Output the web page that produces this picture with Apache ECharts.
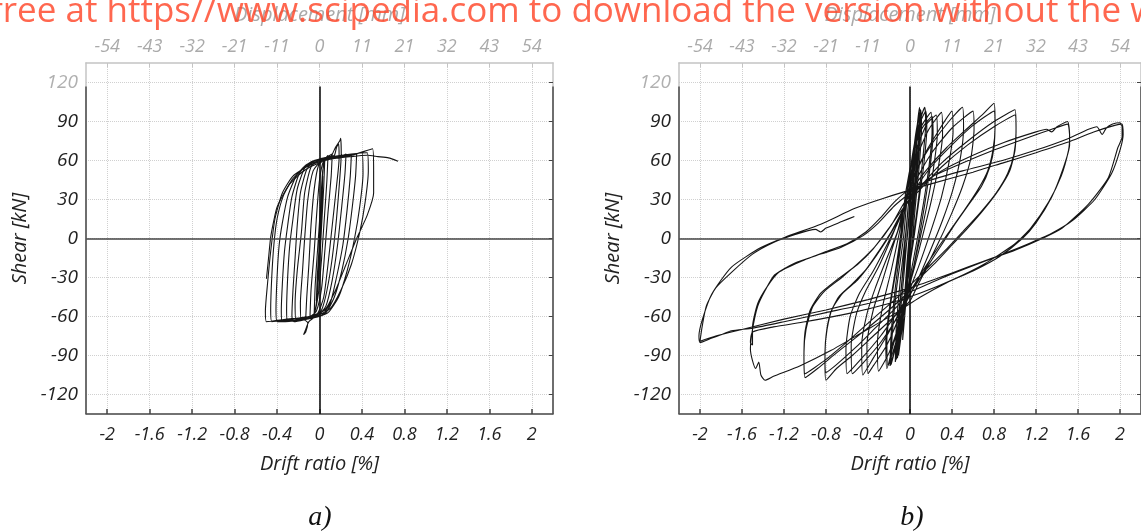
<!DOCTYPE html>
<html><head><meta charset="utf-8">
<script src="https://cdn.jsdelivr.net/npm/echarts@6/dist/echarts.min.js"></script>
<style>html,body{margin:0;padding:0;background:#fff}#c{width:1141px;height:531px}</style>
</head><body><div id="c"></div>
<script>
// ---- tick labels ----
const driftTicks = [-2, -1.6, -1.2, -0.8, -0.4, 0, 0.4, 0.8, 1.2, 1.6, 2];
const dispLabels = ['-54', '-43', '-32', '-21', '-11', '0', '11', '21', '32', '43', '54'];
const shearTicks = [-120, -90, -60, -30, 0, 30, 60, 90, 120];

// ---- specimen a) : [drift %, shear kN] ----
const a1 = [[0,0],[0.01,20],[0.02,38],[0.015,25],[0,2],[-0.01,-18],[-0.02,-36],[-0.012,-20],[0,0]];
const a2 = [[0.01,22],[0.03,48],[0.025,30],[0.005,0],[-0.015,-28],[-0.03,-48],[-0.02,-28],[0,-2]];
const a3 = [[0.015,30],[0.035,55],[0.05,62],[0.04,40],[0.02,10],[0,-20],[-0.03,-50],[-0.05,-58],[-0.04,-35],[-0.015,-5]];
const a4 = [[0.01,25],[0.03,52],[0.06,62],[0.08,64],[0.07,45],[0.045,15],[0.02,-15],[-0.01,-42],[-0.05,-58],[-0.09,-61],[-0.08,-40],[-0.05,-10]];
const a5 = [[-0.03,15],[0,45],[0.04,60],[0.1,64],[0.12,65],[0.11,48],[0.08,20],[0.05,-10],[0.02,-38],[-0.03,-56],[-0.1,-61],[-0.13,-62],[-0.12,-45],[-0.1,-20]];
const a6 = [[-0.08,10],[-0.05,38],[-0.01,56],[0.06,62],[0.14,64],[0.16,70],[0.18,73],[0.185,62],[0.16,40],[0.12,10],[0.08,-20],[0.04,-45],[-0.02,-58],[-0.1,-61],[-0.17,-63],[-0.18,-50],[-0.16,-25]];
const a7 = [[-0.14,0],[-0.11,30],[-0.06,52],[0.02,60],[0.1,62],[0.15,70],[0.19,75],[0.2,77],[0.205,65],[0.19,45],[0.16,15],[0.12,-15],[0.07,-40],[0.02,-55],[-0.04,-60],[-0.1,-64],[-0.13,-70],[-0.15,-74],[-0.13,-72],[-0.11,-65],[-0.16,-62],[-0.22,-63],[-0.23,-50],[-0.21,-25]];
const a8 = [[-0.17,5],[-0.14,35],[-0.08,55],[0,61],[0.1,63],[0.22,64],[0.25,65],[0.24,50],[0.21,25],[0.17,-5],[0.12,-32],[0.06,-52],[-0.02,-60],[-0.12,-62],[-0.24,-64],[-0.26,-60],[-0.25,-40],[-0.23,-15]];
const a9 = [[-0.21,10],[-0.18,35],[-0.12,53],[-0.04,60],[0.1,62],[0.25,63],[0.3,64],[0.29,48],[0.26,22],[0.22,-5],[0.16,-30],[0.1,-50],[0.02,-59],[-0.1,-61],[-0.25,-63],[-0.3,-64],[-0.31,-55],[-0.3,-30],[-0.28,-5]];
const a10 = [[-0.25,15],[-0.21,38],[-0.14,54],[-0.05,60],[0.1,62],[0.3,64],[0.35,65],[0.34,48],[0.31,25],[0.27,0],[0.21,-25],[0.14,-45],[0.06,-57],[-0.05,-61],[-0.2,-63],[-0.35,-64],[-0.36,-56],[-0.35,-35],[-0.33,-10]];
const a11 = [[-0.3,10],[-0.26,32],[-0.19,50],[-0.1,58],[0.05,62],[0.25,64],[0.4,66],[0.41,50],[0.38,25],[0.33,0],[0.26,-25],[0.18,-45],[0.08,-57],[-0.05,-61],[-0.25,-63],[-0.4,-64],[-0.41,-55],[-0.4,-30],[-0.38,-5]];
const a12 = [[-0.35,12],[-0.3,32],[-0.22,48],[-0.12,57],[0.05,62],[0.3,65],[0.45,66],[0.46,52],[0.43,28],[0.38,5],[0.3,-20],[0.2,-40],[0.1,-54],[-0.05,-60],[-0.25,-62],[-0.45,-64],[-0.46,-55],[-0.45,-30],[-0.43,-5]];
const a13 = [[-0.4,15],[-0.34,33],[-0.25,46],[-0.12,56],[0.05,61],[0.3,64],[0.5,69],[0.51,52],[0.51,35],[0.45,18],[0.35,0],[0.25,-20],[0.15,-40],[0.05,-55],[-0.1,-60],[-0.3,-62],[-0.5,-64],[-0.51,-56],[-0.49,-35],[-0.46,-10]];
const a14 = [[-0.42,15],[-0.35,35],[-0.25,48],[-0.1,56],[0.1,61],[0.3,63],[0.45,64],[0.55,63],[0.65,62],[0.74,59.5]];
const aStroke = [[-0.5,-31],[-0.48,-15],[-0.46,1],[-0.43,14],[-0.4,24],[-0.34,34],[-0.28,42],[-0.18,50],[-0.09,55],[0,58]];

// ---- specimen b) : [drift %, shear kN] ----
const b1 = [[0,0],[0.02,30],[0.04,55],[0.03,35],[0.01,10],[-0.02,-25],[-0.04,-50],[-0.03,-30],[-0.01,-5]];
const b2 = [[0.01,15],[0.04,50],[0.07,80],[0.06,60],[0.03,25],[0,-10],[-0.04,-50],[-0.07,-78],[-0.06,-55],[-0.03,-20]];
const b3 = [[0,10],[0.03,45],[0.07,78],[0.1,95],[0.09,75],[0.05,40],[0.01,0],[-0.04,-40],[-0.08,-72],[-0.11,-90],[-0.1,-65],[-0.06,-30]];
const b3r = [[-0.02,8],[0.02,48],[0.06,80],[0.09,96],[0.08,72],[0.04,36],[0,-4],[-0.05,-44],[-0.09,-75],[-0.12,-92],[-0.11,-66],[-0.07,-28]];
const b4 = [[-0.02,5],[0.02,45],[0.06,80],[0.09,101],[0.1,90],[0.08,60],[0.04,25],[0,-10],[-0.05,-45],[-0.1,-75],[-0.13,-93],[-0.12,-70],[-0.08,-35]];
const b4r = [[-0.04,2],[0,40],[0.05,78],[0.1,99],[0.11,86],[0.09,58],[0.05,24],[0.01,-12],[-0.04,-46],[-0.1,-78],[-0.14,-95],[-0.13,-68],[-0.09,-30]];
const b5 = [[-0.04,5],[0,40],[0.05,75],[0.1,92],[0.14,101],[0.15,88],[0.12,60],[0.08,30],[0.03,0],[-0.03,-35],[-0.1,-70],[-0.15,-88],[-0.18,-97],[-0.17,-75],[-0.13,-40]];
const b5r = [[-0.06,2],[-0.02,38],[0.04,72],[0.1,90],[0.15,98],[0.16,84],[0.13,56],[0.08,26],[0.03,-4],[-0.04,-38],[-0.11,-72],[-0.16,-90],[-0.19,-98],[-0.18,-74],[-0.14,-38]];
const b6 = [[-0.08,0],[-0.03,35],[0.03,65],[0.1,85],[0.2,97],[0.21,82],[0.18,55],[0.13,28],[0.07,0],[0,-30],[-0.08,-60],[-0.16,-82],[-0.22,-100],[-0.23,-80],[-0.19,-50],[-0.13,-20]];
const b6r = [[-0.09,2],[-0.04,36],[0.03,64],[0.11,84],[0.21,94],[0.22,80],[0.19,54],[0.14,26],[0.08,-2],[0.01,-32],[-0.07,-62],[-0.15,-84],[-0.21,-98],[-0.22,-78],[-0.18,-48],[-0.12,-18]];
const b7 = [[-0.07,10],[-0.01,42],[0.07,70],[0.16,88],[0.25,95],[0.26,80],[0.22,52],[0.16,25],[0.09,-2],[0.01,-30],[-0.09,-62],[-0.2,-88],[-0.3,-102],[-0.31,-80],[-0.26,-52],[-0.18,-25]];
const b8 = [[-0.1,5],[-0.03,35],[0.06,62],[0.18,84],[0.3,97],[0.31,80],[0.27,55],[0.2,28],[0.12,2],[0.03,-26],[-0.08,-55],[-0.22,-82],[-0.35,-98],[-0.4,-104],[-0.41,-82],[-0.35,-55],[-0.26,-32],[-0.17,-8]];
const b9 = [[-0.08,15],[0,40],[0.12,62],[0.25,80],[0.4,98],[0.41,82],[0.37,58],[0.3,32],[0.2,6],[0.08,-22],[-0.05,-48],[-0.2,-72],[-0.35,-92],[-0.45,-105],[-0.46,-82],[-0.41,-58],[-0.33,-38],[-0.22,-15]];
const b10 = [[-0.12,5],[-0.04,30],[0.08,55],[0.22,74],[0.37,90],[0.5,101],[0.51,85],[0.48,62],[0.41,38],[0.31,14],[0.19,-10],[0.06,-34],[-0.1,-58],[-0.28,-80],[-0.45,-96],[-0.55,-104],[-0.56,-82],[-0.51,-58],[-0.42,-40],[-0.3,-22],[-0.18,0]];
const b11 = [[-0.08,20],[0.04,42],[0.2,65],[0.4,85],[0.6,98],[0.61,84],[0.58,62],[0.5,40],[0.39,18],[0.26,-5],[0.1,-30],[-0.08,-52],[-0.28,-75],[-0.48,-94],[-0.6,-104],[-0.61,-85],[-0.57,-60],[-0.48,-42],[-0.35,-25],[-0.22,-5]];
const b12 = [[-0.1,15],[0,35],[0.15,52],[0.35,70],[0.55,85],[0.7,96],[0.8,104],[0.81,90],[0.8,70],[0.76,55],[0.68,40],[0.55,25],[0.42,10],[0.3,-5],[0.18,-20],[0.08,-35],[0,-48],[-0.15,-60],[-0.35,-75],[-0.55,-90],[-0.7,-100],[-0.8,-109],[-0.81,-95],[-0.8,-75],[-0.76,-58],[-0.68,-45],[-0.55,-35],[-0.42,-24],[-0.3,-10],[-0.18,5]];
const b13 = [[-0.08,20],[0.05,38],[0.2,55],[0.4,72],[0.6,87],[0.8,98],[0.81,85],[0.79,68],[0.74,52],[0.65,38],[0.52,22],[0.38,6],[0.25,-9],[0.12,-25],[0.02,-38],[-0.12,-52],[-0.32,-68],[-0.52,-84],[-0.7,-97],[-0.8,-103],[-0.81,-88],[-0.79,-70],[-0.74,-54],[-0.64,-42],[-0.5,-32],[-0.38,-20],[-0.26,-6],[-0.14,10]];
const b14 = [[-0.05,25],[0.1,40],[0.3,58],[0.55,75],[0.8,90],[1,99],[1.01,85],[1,68],[0.95,52],[0.85,38],[0.7,22],[0.55,8],[0.4,-5],[0.25,-18],[0.1,-30],[0,-40],[-0.2,-55],[-0.45,-72],[-0.7,-88],[-0.88,-100],[-1,-107],[-1.01,-92],[-1,-72],[-0.95,-55],[-0.85,-42],[-0.7,-32],[-0.5,-20],[-0.35,-8],[-0.2,8]];
const b15 = [[-0.05,25],[0.1,38],[0.3,55],[0.55,72],[0.8,86],[1,95],[1.01,82],[0.99,65],[0.93,50],[0.82,35],[0.67,20],[0.5,5],[0.35,-8],[0.2,-20],[0.05,-32],[-0.1,-44],[-0.3,-58],[-0.55,-76],[-0.8,-93],[-1,-104],[-1.01,-88],[-0.99,-70],[-0.93,-53],[-0.82,-41],[-0.65,-30],[-0.48,-18],[-0.32,-5],[-0.18,10]];
const b16 = [[-0.05,28],[0.1,40],[0.3,52],[0.6,64],[0.9,74],[1.2,82],[1.3,84],[1.35,82],[1.4,86],[1.5,90],[1.52,80],[1.52,72],[1.45,52],[1.35,32],[1.2,12],[1.07,0],[0.85,-14],[0.6,-25],[0.35,-34],[0.1,-45],[-0.15,-58],[-0.45,-72],[-0.75,-86],[-1.05,-98],[-1.3,-106],[-1.38,-109],[-1.42,-105],[-1.44,-95],[-1.47,-100],[-1.5,-94],[-1.52,-85],[-1.5,-70],[-1.45,-52],[-1.38,-40],[-1.29,-28],[-1.1,-19],[-0.85,-12],[-0.66,-7],[-0.45,2],[-0.3,12],[-0.15,25]];
const b17 = [[0,35],[0.2,47],[0.5,58],[0.8,68],[1.1,77],[1.35,84],[1.5,88],[1.52,78],[1.51,68],[1.44,48],[1.32,28],[1.15,8],[1,-4],[0.7,-20],[0.4,-32],[0.1,-42],[-0.2,-50],[-0.6,-58],[-1,-64],[-1.3,-68],[-1.5,-72],[-1.52,-80],[-1.5,-82],[-1.5,-68],[-1.45,-50],[-1.36,-37],[-1.25,-26],[-1.05,-18],[-0.8,-10],[-0.6,-4],[-0.42,5],[-0.28,16],[-0.15,28]];
const b18 = [[0,38],[0.2,45],[0.5,52],[0.88,60],[1.2,68],[1.51,77],[1.7,84],[1.78,86],[1.83,80],[1.87,85],[1.93,88],[2,89],[2.02,86],[2.02,78],[1.98,70],[1.89,47],[1.7,26.5],[1.45,8],[1.26,0],[1,-9],[0.73,-17],[0.41,-27],[0.2,-34],[0,-41],[-0.4,-50],[-0.8,-57],[-1.2,-64],[-1.5,-69],[-1.7,-71],[-1.8,-74],[-1.9,-77],[-2,-80],[-2.01,-75],[-1.98,-63],[-1.89,-43],[-1.7,-22],[-1.42,-7],[-1.19,1],[-0.85,11],[-0.53,23],[-0.25,31],[0.2,42],[0.6,51]];
const b19 = [[0.88,58],[1.2,66],[1.5,74],[1.75,82],[1.95,87],[2.02,88],[2.03,80],[2,68],[1.92,50],[1.76,30],[1.55,14],[1.35,4],[1.1,-5],[0.85,-13],[0.55,-22],[0.25,-31],[0,-38],[-0.4,-47],[-0.8,-55],[-1.2,-62],[-1.6,-70],[-1.85,-75],[-2,-79],[-1.98,-68],[-1.94,-52],[-1.85,-38],[-1.7,-26],[-1.5,-12],[-1.3,-3],[-1.1,3],[-0.9,7],[-0.85,5],[-0.8,8],[-0.65,13],[-0.53,17]];

const specimenA = [].concat(a1,a2,a3,a4,a5,a6,a7,a8,a9,a10,a11,a12,a13,a14);
const specimenB = [].concat(b1,b2,b3,b3r,b4,b4r,b5,b5r,b6,b6r,b7,b8,b9,b10,b11,b12,b13,b14,b15,b16,b17,b18,b19);

const FONT = 'Open Sans';
const X_MIN = -2.2, X_MAX = 2.2, Y_MIN = -135, Y_MAX = 135;

function dispFmt(v) {
  const i = driftTicks.findIndex(t => Math.abs(t - v) < 1e-9);
  return i >= 0 ? dispLabels[i] : '';
}
const grids = [
  {left: 86, top: 62, width: 467, height: 352, show: false},
  {left: 679, top: 62, width: 467, height: 352, show: false}
];
const xAxes = [], yAxes = [], series = [];
grids.forEach((g, gi) => {
  xAxes.push({
    gridIndex: gi, type: 'value', position: 'bottom', min: X_MIN, max: X_MAX,
    axisLine: {show: true, onZero: false, lineStyle: {color: '#444', width: 1.5}},
    axisTick: {show: true, inside: true, length: 5, customValues: driftTicks, lineStyle: {color: '#444', width: 1.5}},
    axisLabel: {customValues: driftTicks, margin: 12, fontFamily: FONT, fontStyle: 'italic', fontSize: 18, color: '#222'},
    splitLine: {show: true, lineStyle: {color: '#d0d0d0', type: 'dotted', width: 1}},
    name: 'Drift ratio [%]', nameLocation: 'middle', nameGap: 40,
    nameTextStyle: {fontFamily: FONT, fontStyle: 'italic', fontSize: 20, color: '#222'}
  });
  xAxes.push({
    gridIndex: gi, type: 'value', position: 'top', min: X_MIN, max: X_MAX,
    axisLine: {show: true, onZero: false, lineStyle: {color: '#c4c4c4', width: 1.5}},
    axisTick: {show: true, inside: true, length: 4, customValues: driftTicks, lineStyle: {color: '#c4c4c4'}},
    axisLabel: {customValues: driftTicks, formatter: dispFmt, margin: 7, fontFamily: FONT, fontStyle: 'italic', fontSize: 18, color: '#aaaaaa'},
    splitLine: {show: false},
    name: 'Displacement [mm]', nameLocation: 'middle', nameGap: 38,
    nameTextStyle: {fontFamily: FONT, fontStyle: 'italic', fontSize: 20, color: '#aaaaaa'}
  });
  yAxes.push({
    gridIndex: gi, type: 'value', position: 'left', min: Y_MIN, max: Y_MAX,
    axisLine: {show: true, onZero: false, lineStyle: {color: '#c4c4c4', width: 1.5}},
    axisTick: {show: false, customValues: shearTicks},
    axisLabel: {customValues: shearTicks, margin: 8, fontFamily: FONT, fontStyle: 'italic', fontSize: 19,
      color: v => (Number(v) === 120 ? '#b0b0b0' : '#222')},
    splitLine: {show: true, lineStyle: {color: '#d0d0d0', type: 'dotted', width: 1}},
    name: 'Shear [kN]', nameLocation: 'middle', nameGap: 56,
    nameTextStyle: {fontFamily: FONT, fontStyle: 'italic', fontSize: 20, color: '#222'}
  });
  yAxes.push({
    gridIndex: gi, type: 'value', position: 'right', min: Y_MIN, max: Y_MAX,
    axisLine: {show: true, onZero: false, lineStyle: {color: '#c4c4c4', width: 1.5}},
    axisTick: {show: true, inside: true, length: 4, customValues: shearTicks, lineStyle: {color: '#444'}},
    axisLabel: {show: false}, splitLine: {show: false}
  });
  // frame / zero reference lines
  series.push({
    type: 'line', xAxisIndex: gi * 2, yAxisIndex: gi * 2, data: [], clip: false, silent: true, z: 4,
    markLine: {
      symbol: ['none', 'none'], silent: true, animation: false, label: {show: false},
      lineStyle: {color: '#444', width: 1.5, type: 'solid'},
      data: [
        [{coord: [X_MIN, 0]}, {coord: [X_MAX, 0]}],
        [{coord: [0, Y_MIN], lineStyle: {color: '#111', width: 1.6}}, {coord: [0, 117]}],
        [{coord: [X_MIN, Y_MIN], lineStyle: {color: '#555', width: 1.6}}, {coord: [X_MIN, 117]}],
        [{coord: [X_MAX, Y_MIN], lineStyle: {color: '#555', width: 1.6}}, {coord: [X_MAX, 117]}]
      ]
    }
  });
});
function curve(data, gi) {
  return {type: 'line', xAxisIndex: gi * 2, yAxisIndex: gi * 2, data: data, symbol: 'none', showSymbol: false,
    smooth: 0.2, silent: true, z: 3, lineStyle: {color: '#151515', width: 1.1}};
}
series.push(curve(specimenA, 0));
series.push(curve(aStroke, 0));
series.push(curve(specimenB, 1));

const chart = echarts.init(document.getElementById('c'), null, {renderer: 'canvas'});
chart.setOption({
  animation: false,
  backgroundColor: '#ffffff',
  grid: grids, xAxis: xAxes, yAxis: yAxes, series: series,
  graphic: [
    {type: 'text', x: 320, y: 518, z: 50, style: {text: 'a)', font: 'italic 28px "Liberation Serif"', fill: '#111', align: 'center', verticalAlign: 'middle'}},
    {type: 'text', x: 912, y: 518, z: 50, style: {text: 'b)', font: 'italic 28px "Liberation Serif"', fill: '#111', align: 'center', verticalAlign: 'middle'}},
    {type: 'text', x: -9, y: 12, z: 100, style: {text: 'free at https//www.scipedia.com to download the version without the watermark', font: '35px "Open Sans"', fill: 'rgba(255,70,40,0.82)', align: 'left', verticalAlign: 'middle'}}
  ]
});
</script></body></html>
